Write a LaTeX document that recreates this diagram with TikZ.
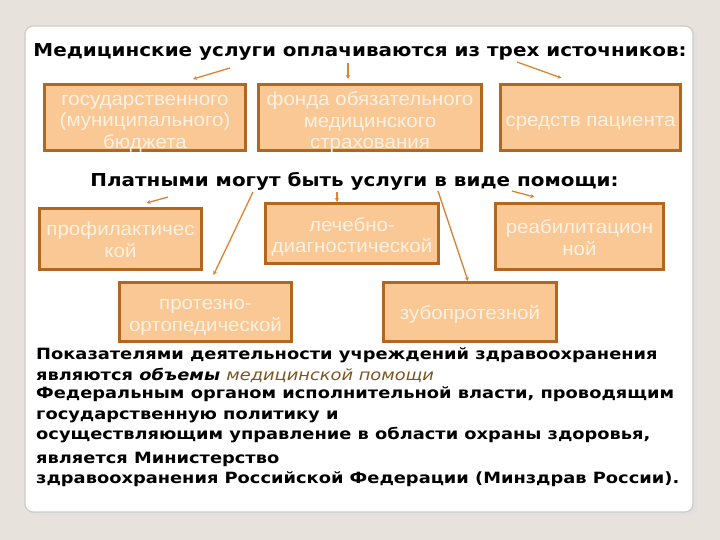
\documentclass[tikz,border=0pt]{standalone}
\usepackage{fontspec}
\setmainfont{DejaVu Sans}
\newfontfamily\boxfont{Liberation Sans}[FakeStretch=1.08]
\newfontfamily\titlefont{DejaVu Sans}[FakeStretch=1.12]
\newfontfamily\bodyfont{DejaVu Sans}[FakeStretch=1.15]
\usetikzlibrary{arrows.meta,calc}
\definecolor{bgc}{HTML}{E7E3DC}
\definecolor{panelline}{HTML}{CFCBC4}
\definecolor{boxfill}{HTML}{F9C894}
\definecolor{boxline}{HTML}{B3661E}
\definecolor{boxtext}{HTML}{FFF1E2}
\definecolor{conncol}{HTML}{E08330}
\definecolor{brownit}{HTML}{7D5424}
\tikzset{
  box/.style={draw=boxline, line width=3pt, fill=boxfill, inner sep=0pt},
  boxtxt/.style={inner sep=0pt, align=center, text=boxtext,
    font=\boxfont\fontsize{19}{21.5}\selectfont},
  conn/.style={draw=conncol, line width=1.3pt, -{Stealth[length=4pt,width=4pt]}},
  title/.style={font=\titlefont\bfseries\fontsize{17.8}{20}\selectfont, anchor=base, inner sep=0pt},
  body/.style={font=\bodyfont\bfseries\fontsize{15.5}{18}\selectfont, anchor=base west, inner sep=0pt}
}
\begin{document}
\begin{tikzpicture}[x=1pt,y=-1pt]
\useasboundingbox (0,0) rectangle (720,540);
\fill[bgc] (0,0) rectangle (720,540);
\fill[black!12, rounded corners=8pt] (28,29) rectangle (697,515);
\filldraw[fill=white, draw=panelline, line width=1.2pt, rounded corners=8pt] (25,26) rectangle (693,512);

% titles
\node[title] (h1) at (360,57) {Медицинские услуги оплачиваются из трех источников:};
\node[title] (h2) at (354.5,187) {Платными могут быть услуги в виде помощи:};

% row 1 boxes
\node[box, minimum width=201, minimum height=66] (b1) at (145,117.5) {};
\node[box, minimum width=223, minimum height=66] (b2) at (370,117.5) {};
\node[box, minimum width=180, minimum height=66] (b3) at (590.5,117.5) {};
\node[boxtxt] (b1t) at ([yshift=-6]b1.center) {государственного\\(муниципального)\\бюджета};
\node[boxtxt] (b2t) at ([yshift=-5]b2.center) {фонда обязательного\\медицинского\\страхования};
\node[boxtxt] (b3t) at ([yshift=-5.5]b3.center) {средств пациента};

% row 2 boxes
\node[box, minimum width=162, minimum height=61] (p1) at (120.5,239) {};
\node[box, minimum width=173, minimum height=60] (p2) at (352,233.5) {};
\node[box, minimum width=168, minimum height=66] (p3) at (579.5,236.5) {};
\node[box, minimum width=172, minimum height=59] (p4) at (205.5,312) {};
\node[box, minimum width=173, minimum height=59] (p5) at (470,312) {};
\node[boxtxt] (p1t) at ([yshift=-0.5]p1.center) {профилактичес\\кой};
\node[boxtxt] (p2t) at ([yshift=-3.5]p2.center) {лечебно-\\диагностической};
\node[boxtxt] (p3t) at ([yshift=-1]p3.center) {реабилитацион\\ной};
\node[boxtxt] (p4t) at ([yshift=-5.5]p4.center) {протезно-\\ортопедической};
\node[boxtxt] (p5t) at ([yshift=-2]p5.center) {зубопротезной};

% connector start points
\coordinate (s1) at (230,68);
\coordinate (s2) at (348,63);
\coordinate (s3) at (517,62);
\coordinate (s4) at (168,197);
\coordinate (s5) at (253,192);
\coordinate (s6) at (337,192);
\coordinate (s7) at (438,191);
\coordinate (s8) at (512,191);

\draw[conn] (s1) -- ([shift={(48,-4)}]b1.north);
\draw[conn] (s2) -- ([shift={(-22,-4)}]b2.north);
\draw[conn] (s3) -- ([shift={(-29,-5)}]b3.north);
\draw[conn] (s4) -- ([shift={(26,-4)}]p1.north);
\draw[conn] (s5) -- ([shift={(8,-6)}]p4.north);
\draw[conn] (s6) -- ([shift={(-15,0)}]p2.north);
\draw[conn] (s7) -- ([shift={(-2,0)}]p5.north);
\draw[conn] (s8) -- ([shift={(-45,-5)}]p3.north);

% body text
\node[body] (t1) at (36,359) {Показателями деятельности учреждений здравоохранения};
\node[body] (t2) at (36,380) {являются \textit{объемы} {\mdseries\itshape\color{brownit}медицинской помощи}};
\node[body] (t3) at (36,398) {Федеральным органом исполнительной власти, проводящим};
\node[body] (t4) at (36,419) {государственную политику и};
\node[body] (t5) at (36,439) {осуществляющим управление в области охраны здоровья,};
\node[body] (t6) at (36,463) {является Министерство};
\node[body] (t7) at (36,483) {здравоохранения Российской Федерации (Минздрав России).};
\end{tikzpicture}
\end{document}
